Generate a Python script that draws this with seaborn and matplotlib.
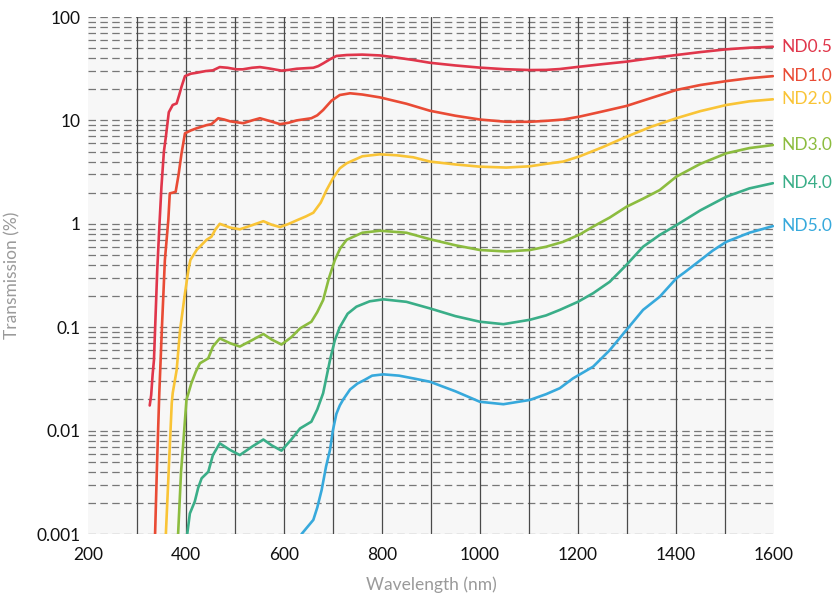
import numpy as np
import pandas as pd
import seaborn as sns
import matplotlib.pyplot as plt
from matplotlib.ticker import FuncFormatter, LogLocator, FixedLocator

# values (wavelength nm, transmission %)
nd05_wl = [326, 329, 332, 334.7, 338.5, 341.4, 346, 350, 355, 359, 365, 373, 381, 386, 391, 398,
           410, 422, 440, 455, 469, 485, 503, 516, 535, 551, 570, 595, 610, 626, 645, 660, 670,
           680, 694, 707, 728, 760, 796, 830, 864, 898, 950, 1000, 1050, 1102, 1135, 1163, 1204,
           1250, 1299, 1350, 1401, 1450, 1503, 1550, 1598]
nd05_t = [0.0175, 0.022, 0.035, 0.048, 0.15, 0.357, 1.0, 2.29, 5.0, 6.95, 12.0, 14.1, 14.6, 17.5,
          21.2, 26.8, 28.3, 28.9, 30.0, 30.5, 32.8, 32.3, 31.2, 31.2, 32.3, 32.8, 31.8, 30.3,
          30.8, 31.6, 32.0, 32.3, 33.5, 35.6, 39.0, 42.0, 42.9, 43.3, 42.5, 40.5, 38.4, 36.1,
          34.0, 32.4, 31.3, 30.7, 30.8, 31.4, 33.1, 35.0, 37.0, 40.0, 42.9, 45.8, 48.7, 50.5,
          51.6]

nd10_wl = [334, 337, 341, 345.6, 351, 357, 364, 367, 373, 379, 385, 391, 398, 410, 422, 442, 452,
           466, 478, 490, 517, 535, 551, 570, 592, 610, 626, 656, 668, 680, 697, 714, 735, 760,
           796, 850, 898, 950, 1000, 1054, 1102, 1135, 1170, 1204, 1250, 1299, 1350, 1401,
           1450, 1503, 1550, 1598]
nd10_t = [0.0007, 0.001, 0.0048, 0.0231, 0.1, 0.447, 1.09, 1.97, 2.0, 2.04, 3.0, 4.8, 7.5, 8.0,
          8.4, 9.0, 9.2, 10.5, 10.2, 9.8, 9.4, 10.0, 10.5, 9.9, 9.2, 9.5, 10.0, 10.5, 11.2, 12.6,
          15.5, 17.6, 18.3, 17.8, 16.7, 14.5, 12.4, 11.1, 10.2, 9.7, 9.7, 9.9, 10.2, 10.9, 12.2,
          13.8, 16.5, 19.7, 22.0, 24.0, 25.6, 26.8]

nd20_wl = [357, 359, 365, 371, 373, 381, 388, 398, 405, 409, 422, 442, 452, 460, 469, 490, 510,
           535, 558, 575, 592, 610, 626, 645, 660, 675, 687, 700, 714, 728, 760, 796, 830, 864,
           898, 950, 1000, 1054, 1102, 1135, 1170, 1204, 1250, 1299, 1350, 1401, 1450, 1503,
           1550, 1598]
nd20_t = [0.0007, 0.001, 0.0043, 0.0184, 0.0231, 0.0385, 0.094, 0.213, 0.357, 0.447, 0.56, 0.70,
          0.75, 0.88, 1.0, 0.92, 0.885, 0.97, 1.06, 0.98, 0.93, 1.0, 1.08, 1.18, 1.28, 1.6, 2.12,
          2.75, 3.44, 3.85, 4.5, 4.7, 4.6, 4.4, 4.0, 3.75, 3.57, 3.5, 3.6, 3.8, 4.0, 4.5, 5.5,
          6.95, 8.7, 10.5, 12.3, 14.1, 15.3, 16.0]

nd30_wl = [381, 384, 390, 394.5, 401, 411, 420, 428.6, 445.5, 455, 469, 490, 510, 535, 558, 575,
           595, 615, 633, 656, 668, 680, 692, 704, 715, 728, 760, 796, 850, 898, 950, 1000, 1054,
           1102, 1135, 1170, 1204, 1231, 1265, 1299, 1333, 1367, 1401, 1450, 1503, 1550, 1598]
nd30_t = [0.0007, 0.001, 0.004, 0.0075, 0.0198, 0.0287, 0.037, 0.0448, 0.05, 0.065, 0.078, 0.07,
          0.065, 0.075, 0.086, 0.076, 0.068, 0.08, 0.0975, 0.113, 0.14, 0.183, 0.3, 0.447, 0.58,
          0.70, 0.82, 0.857, 0.82, 0.71, 0.62, 0.558, 0.54, 0.558, 0.6, 0.67, 0.79, 0.94, 1.15,
          1.46, 1.75, 2.12, 2.86, 3.8, 4.81, 5.4, 5.78]

nd40_wl = [400, 402.6, 408, 418, 425, 432, 445.6, 455, 469, 490, 510, 535, 558, 575, 595, 615,
           633, 656, 668, 680, 694, 704, 714, 730, 748, 775, 803, 850, 898, 950, 1000, 1048,
           1102, 1135, 1163, 1200, 1231, 1265, 1299, 1333, 1367, 1401, 1450, 1503, 1550, 1598]
nd40_t = [0.0007, 0.001, 0.00158, 0.00206, 0.0028, 0.00346, 0.004, 0.0058, 0.00753, 0.0065,
          0.0058, 0.007, 0.0082, 0.0072, 0.0064, 0.0082, 0.0105, 0.0122, 0.016, 0.023, 0.048,
          0.075, 0.10, 0.135, 0.158, 0.178, 0.186, 0.176, 0.152, 0.128, 0.113, 0.107, 0.118,
          0.13, 0.147, 0.176, 0.213, 0.275, 0.40, 0.60, 0.78, 0.97, 1.35, 1.83, 2.2, 2.47]

nd50_wl = [630, 636, 660, 668, 677, 686, 694, 700, 707, 714, 721, 735, 750, 765, 780, 803, 835,
           864, 898, 950, 1000, 1048, 1102, 1135, 1163, 1190, 1231, 1265, 1299, 1333, 1367,
           1401, 1418, 1446, 1475, 1503, 1550, 1598]
nd50_t = [0.0007, 0.001, 0.00137, 0.0018, 0.00267, 0.0045, 0.0065, 0.0101, 0.0145, 0.0175, 0.02,
          0.025, 0.0285, 0.031, 0.034, 0.035, 0.034, 0.032, 0.0297, 0.024, 0.019, 0.018, 0.0198,
          0.0225, 0.0257, 0.032, 0.0415, 0.06, 0.094, 0.147, 0.197, 0.297, 0.34, 0.43, 0.55,
          0.67, 0.82, 0.95]

filters = ['ND0.5', 'ND1.0', 'ND2.0', 'ND3.0', 'ND4.0', 'ND5.0']
colors = ['#e0364b', '#e94b35', '#f9c436', '#8cbc3f', '#3aae88', '#37a9dc']
series = [(nd05_wl, nd05_t), (nd10_wl, nd10_t), (nd20_wl, nd20_t),
          (nd30_wl, nd30_t), (nd40_wl, nd40_t), (nd50_wl, nd50_t)]

df = pd.concat([pd.DataFrame({'wavelength': wl, 'transmission': t, 'filter': name})
                for name, (wl, t) in zip(filters, series)], ignore_index=True)

sns.set_style('white')
plt.rcParams['font.family'] = ['Lato', 'DejaVu Sans']

fig, ax = plt.subplots(figsize=(8.33, 5.95), dpi=100)
fig.subplots_adjust(left=0.1056, right=0.929, top=0.9714, bottom=0.1025)
ax.set_facecolor('#f7f7f7')

sns.lineplot(data=df, x='wavelength', y='transmission', hue='filter', palette=colors,
             estimator=None, sort=False, linewidth=1.9, legend=False, ax=ax, zorder=3)

ax.set_yscale('log')
ax.set_xlim(200, 1600)
ax.set_ylim(0.001, 100)

# dashed horizontal grid on every log tick
ax.yaxis.set_major_locator(LogLocator(base=10))
ax.yaxis.set_minor_locator(LogLocator(base=10, subs=np.arange(2, 10)))
ax.yaxis.set_major_formatter(FuncFormatter(lambda v, p: '{:g}'.format(v)))
ax.yaxis.set_minor_formatter(FuncFormatter(lambda v, p: ''))
ax.yaxis.grid(True, which='both', color='#777777', linestyle=(0, (6, 3.5)), linewidth=0.9)
ax.xaxis.set_major_locator(FixedLocator(range(200, 1601, 200)))
ax.xaxis.grid(False)
# solid verticals every 100 nm (not on the edges)
for xv in range(300, 1600, 100):
    ax.axvline(xv, color='#4a4a4a', linewidth=0.9, zorder=1)
ax.set_axisbelow(True)
for s in ax.spines.values():
    s.set_visible(False)
ax.tick_params(which='both', length=0)
ax.tick_params(axis='x', pad=9, labelsize=12.5, labelcolor='#111111')
ax.tick_params(axis='y', pad=5, labelsize=12.5, labelcolor='#111111')

ax.set_xlabel('Wavelength (nm)', color='#9a9a9a', fontsize=12.5, labelpad=10)
ax.set_ylabel('Transmission (%)', color='#9a9a9a', fontsize=12.5, labelpad=12)

for name, c, (wl, t) in zip(filters, colors, series):
    ax.annotate(name, xy=(wl[-1], t[-1]), xytext=(6, 0), textcoords='offset points',
                color=c, fontsize=12.5, va='center', ha='left', annotation_clip=False)

plt.savefig('out.png', dpi=100)
